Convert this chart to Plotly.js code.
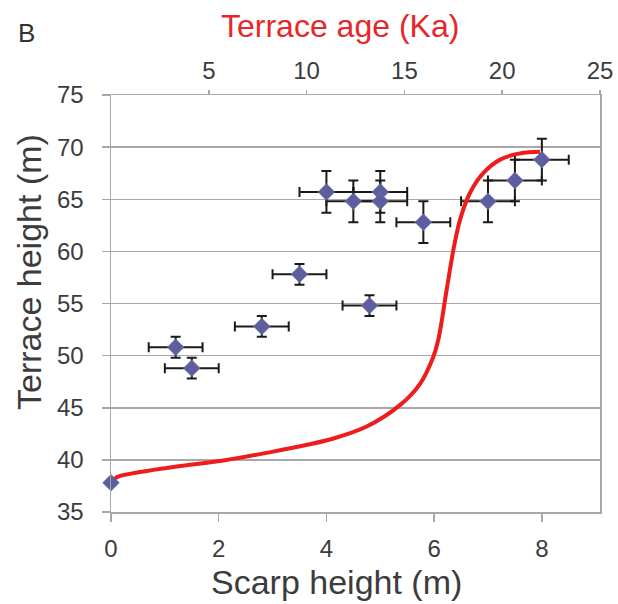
<!DOCTYPE html>
<html>
<head>
<meta charset="utf-8">
<script src="https://cdn.plot.ly/plotly-3.0.1.min.js"></script>
<style>html,body{margin:0;padding:0;background:#fff;}</style>
</head>
<body>
<div id="chart" style="width:618px;height:604px;"></div>
<script>
// Measured terrace data (bottom axis: scarp height, m)
const scarpHeight   = [0.0, 1.2, 1.5, 2.8, 3.5, 4.8, 4.0, 4.5, 5.0, 5.0, 5.8, 7.0, 7.5, 8.0];
const terraceHeight = [37.8, 50.8, 48.8, 52.8, 57.8, 54.8, 65.7, 64.8, 65.7, 64.8, 62.8, 64.8, 66.8, 68.8];
const scarpErr      = [0, 0.5, 0.5, 0.5, 0.5, 0.5, 0.5, 0.5, 0.5, 0.5, 0.5, 0.5, 0.5, 0.5];
const heightErr     = [0, 1, 1, 1, 1, 1, 2, 2, 2, 2, 2, 2, 2, 2];

// Model curve (top axis: terrace age, Ka)
const curveAge    = [0.2, 0.37, 3.1, 5.83, 8.22, 9.92, 11.37, 13.07, 14.77, 15.8, 16.48, 16.73, 17.16, 17.5, 17.84, 18.35, 19.03, 19.89, 20.91, 21.93];
const curveHeight = [38.2, 38.4, 39.3, 39.97, 40.77, 41.4, 42.05, 43.2, 45.25, 47.3, 49.9, 51.5, 56.3, 60.1, 63.0, 65.6, 67.5, 68.8, 69.4, 69.56];

const yTicks = [35, 40, 45, 50, 55, 60, 65, 70, 75];
const xTicks = [0, 2, 4, 6, 8];
const ageTicks = [5, 10, 15, 20, 25];

const font = "Liberation Sans, Arial, sans-serif";
const narrow = "Liberation Sans Narrow, Liberation Sans, Arial, sans-serif";
const grey = "#a8a8a8";
const txt = "#3c3c3c";

const traces = [
  {
    x: curveAge, y: curveHeight, xaxis: "x2", yaxis: "y",
    type: "scatter", mode: "lines",
    line: {color: "#ee1c1c", width: 4, shape: "spline", smoothing: 1},
    hoverinfo: "skip", showlegend: false
  },
  {
    x: scarpHeight, y: terraceHeight, xaxis: "x", yaxis: "y",
    type: "scatter", mode: "markers", cliponaxis: false,
    marker: {symbol: "diamond", size: 13, color: "#5c5e9e", line: {color: "#7a7cb8", width: 0.5}},
    error_x: {type: "data", array: scarpErr, visible: true, color: "#1a1a1a", thickness: 2, width: 5},
    error_y: {type: "data", array: heightErr, visible: true, color: "#1a1a1a", thickness: 2, width: 5},
    showlegend: false
  }
];

const layout = {
  width: 618, height: 604,
  margin: {l: 111, r: 18, t: 95, b: 92, pad: 0},
  paper_bgcolor: "#ffffff", plot_bgcolor: "#ffffff",
  font: {family: font, color: txt, size: 22},
  showlegend: false,
  xaxis: {
    range: [0, 9.08], tickvals: xTicks, ticktext: xTicks.map(String),
    showgrid: false, zeroline: false,
    showline: true, linecolor: grey, linewidth: 1.5, mirror: false,
    ticks: "outside", ticklen: 8, tickcolor: grey, tickwidth: 1.5,
    ticklabelstandoff: 7,
    tickfont: {size: 24, color: txt, family: font}
  },
  xaxis2: {
    overlaying: "x", side: "top", anchor: "y",
    range: [0, 25], tickvals: ageTicks, ticktext: ageTicks.map(String),
    showgrid: false, zeroline: false,
    showline: true, linecolor: grey, linewidth: 1.5,
    ticks: "outside", ticklen: 4, tickcolor: grey, tickwidth: 1.5,
    ticklabelstandoff: 1,
    tickfont: {size: 24, color: txt, family: narrow}
  },
  yaxis: {
    range: [35, 75], tickvals: yTicks, ticktext: yTicks.map(String),
    showgrid: true, gridcolor: grey, gridwidth: 1.5,
    zeroline: false, showline: true, linecolor: grey, linewidth: 1.5, mirror: true,
    ticks: "outside", ticklen: 8, tickcolor: grey, tickwidth: 1.5,
    ticklabelstandoff: 13,
    tickfont: {size: 24, color: txt, family: narrow}
  },
  annotations: [
    {text: "Terrace age (Ka)", xref: "paper", yref: "paper", x: 0.468, y: 1, yshift: 69,
     xanchor: "center", yanchor: "middle", showarrow: false,
     font: {size: 32, color: "#e8262a", family: font}},
    {text: "B", xref: "paper", yref: "paper", x: 0, xshift: -95, y: 1, yshift: 62,
     xanchor: "left", yanchor: "middle", showarrow: false,
     font: {size: 26, color: "#333333", family: font}},
    {text: "Scarp height (m)", xref: "paper", yref: "paper", x: 0.462, y: 0, yshift: -70,
     xanchor: "center", yanchor: "middle", showarrow: false,
     font: {size: 34, color: txt, family: font}},
    {text: "Terrace height (m)", xref: "paper", yref: "paper", x: 0, xshift: -82, y: 0.5755,
     xanchor: "center", yanchor: "middle", textangle: -90, showarrow: false,
     font: {size: 34, color: txt, family: font}}
  ]
};

Plotly.newPlot("chart", traces, layout, {staticPlot: true, displayModeBar: false});
</script>
</body>
</html>
